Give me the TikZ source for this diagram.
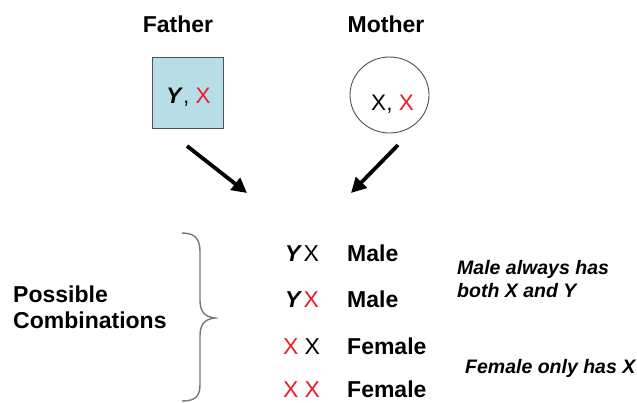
\documentclass[tikz,border=0pt]{standalone}
\usepackage{fontspec}
\setmainfont{Liberation Sans}
\usetikzlibrary{arrows.meta,shapes.geometric}
\definecolor{boxblue}{RGB}{183,222,232}
\definecolor{edgegray}{RGB}{80,80,80}
\definecolor{bracegray}{RGB}{120,120,120}
\definecolor{xred}{RGB}{235,28,36}
\tikzset{
  lbl/.style={inner sep=0pt, anchor=base west, font=\fontsize{23}{27}\selectfont\bfseries},
  ttl/.style={inner sep=0pt, anchor=base, font=\fontsize{23}{27}\selectfont\bfseries},
  gene/.style={inner sep=0pt, anchor=base west, font=\fontsize{23}{27}\selectfont},
  note/.style={inner sep=0pt, anchor=base west, font=\fontsize{19.5}{22}\selectfont\bfseries\itshape},
  bigarrow/.style={line width=3.8pt, -{Triangle[length=15pt,width=15pt]}}
}
\begin{document}
\begin{tikzpicture}[x=1pt,y=-1pt]
\useasboundingbox (0,0) rectangle (637,402);
% titles
\node[ttl] (father) at (178,32) {Father};
\node[ttl] (mother) at (386,32) {Mother};
% father box
\node[draw=edgegray, line width=0.9pt, fill=boxblue, minimum width=71pt, minimum height=71pt, inner sep=0pt] (fbox) at (187.5,92.5) {};
\node[inner sep=0pt, anchor=base, font=\fontsize{22.5}{26}\selectfont] (ftext) at (188.5,103) {\textbf{\textit{Y}}, \textcolor{xred}{X}};
% mother circle
\node[draw=edgegray, line width=0.9pt, ellipse, minimum width=79pt, minimum height=76pt, inner sep=0pt] (mcirc) at (389.5,95) {};
\node[inner sep=0pt, anchor=base, font=\fontsize{22.5}{26}\selectfont] (mtext) at (392.5,110) {X, \textcolor{xred}{X}};
% arrows
\coordinate (fa1) at (187,146);
\coordinate (fa2) at (247,193);
\coordinate (ma1) at (398,145);
\coordinate (ma2) at (351,193);
\draw[bigarrow] (fa1) -- (fa2);
\draw[bigarrow] (ma1) -- (ma2);
% left label
\node[lbl] (poss) at (13,302) {Possible};
\node[lbl] (comb) at (13,328) {Combinations};
% brace
\coordinate (btop) at (182,233);
\coordinate (btip) at (215,318);
\coordinate (bbot) at (182,401);
\draw[bracegray, line width=1.4pt]
  (btop) .. controls (196,233) and (200,240) .. (200,252)
  -- (200,300) .. controls (200,312) and (205,317) .. (btip)
  .. controls (205,319) and (200,324) .. (200,336)
  -- (200,384) .. controls (200,396) and (196,401) .. (bbot);
% rows
\node[gene] (y1) at (285,261) {\textbf{\textit{Y}}};
\node[gene] (x1) at (303.5,261) {X};
\node[lbl] (m1) at (347,261) {Male};
\node[gene] (y2) at (285,307) {\textbf{\textit{Y}}};
\node[gene, text=xred] (x2) at (303.5,307) {X};
\node[lbl] (m2) at (347,307) {Male};
\node[gene, text=xred] (x3a) at (283,354) {X};
\node[gene] (x3b) at (304.5,354) {X};
\node[lbl] (f3) at (347,354) {Female};
\node[gene, text=xred] (x4a) at (283,397) {X};
\node[gene, text=xred] (x4b) at (304.5,397) {X};
\node[lbl] (f4) at (347,397) {Female};
% notes
\node[note] (n1) at (457,274) {Male always has};
\node[note] (n2) at (457,297) {both X and Y};
\node[note] (n3) at (465,373) {Female only has X};
\end{tikzpicture}
\end{document}
